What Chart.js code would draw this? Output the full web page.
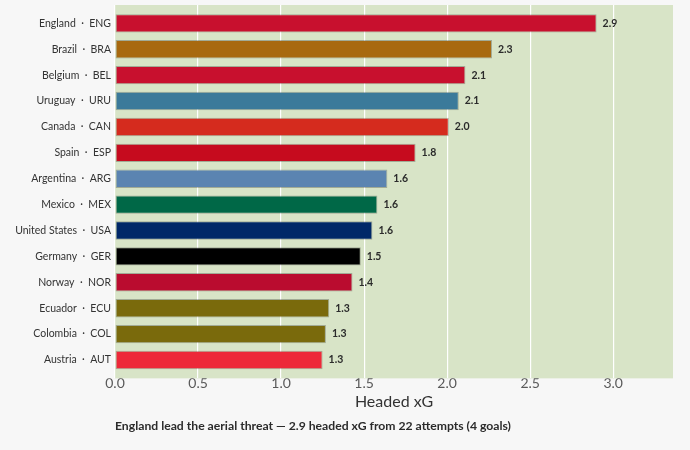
<!DOCTYPE html>
<html>
<head>
<meta charset="utf-8">
<script src="https://cdn.jsdelivr.net/npm/chart.js@4/dist/chart.umd.min.js"></script>
<style>
  html, body { margin: 0; padding: 0; background: #f7f7f7; }
  #wrap { width: 690px; height: 450px; position: relative; }
</style>
</head>
<body>
<div id="wrap"><canvas id="chart_headedXg"></canvas></div>
<script>
var teams = ['England  ·  ENG', 'Brazil  ·  BRA', 'Belgium  ·  BEL', 'Uruguay  ·  URU', 'Canada  ·  CAN', 'Spain  ·  ESP',
  'Argentina  ·  ARG', 'Mexico  ·  MEX', 'United States  ·  USA', 'Germany  ·  GER', 'Norway  ·  NOR',
  'Ecuador  ·  ECU', 'Colombia  ·  COL', 'Austria  ·  AUT'];
var headedXg = [2.90, 2.27, 2.11, 2.07, 2.01, 1.81, 1.64, 1.58, 1.55, 1.48, 1.43, 1.29, 1.27, 1.25];
var teamColors = ['#c8102e', '#a8690f', '#c8102e', '#3b7a9a', '#d52b1e', '#c60b1e', '#5b84b1',
  '#006847', '#002868', '#000000', '#ba0c2f', '#7a6a0c', '#7a6a0c', '#ed2939'];
var xTicks = [0, 0.5, 1, 1.5, 2, 2.5, 3];

Chart.defaults.font.family = 'Lato, "Noto Sans", sans-serif';

var chart_headedXg = new Chart(document.getElementById('chart_headedXg'), {
    type: 'bar',
    data: {
        labels: teams,
        datasets: [{
            label: 'Headed xG',
            data: headedXg,
            backgroundColor: teamColors,
            borderColor: 'rgba(0,0,0,0.25)',
            borderWidth: 1,
            borderSkipped: false,
            categoryPercentage: 1.0,
            barPercentage: 0.71
        }]
    },
    options: {
        indexAxis: 'y',
        animation: false,
        responsive: true,
        maintainAspectRatio: false,
        layout: { padding: { top: 5, right: 17, left: 0, bottom: 0 } },
        plugins: {
            legend: { display: false },
            tooltip: { enabled: false },
            title: {
                display: true,
                position: 'bottom',
                align: 'start',
                fullSize: false,
                text: 'England lead the aerial threat \u2014 2.9 headed xG from 22 attempts (4 goals)',
                color: '#2b2b2b',
                font: { size: 12.2, weight: 'bold' },
                padding: { top: 7, bottom: 17 }
            }
        },
        scales: {
            x: {
                type: 'linear',
                min: 0,
                max: 3.36,
                afterBuildTicks: function(scale) {
                    scale.ticks = xTicks.map(function(v) { return { value: v }; });
                },
                ticks: {
                    color: '#5a5a5a',
                    font: { size: 14 },
                    padding: -3,
                    callback: function(value) { return value.toFixed(1); }
                },
                grid: { color: '#ffffff', lineWidth: 1.2, drawTicks: false },
                border: { display: false },
                title: {
                    display: true,
                    text: 'Headed xG',
                    color: '#333333',
                    font: { size: 16 },
                    padding: { top: 3, bottom: 0 }
                }
            },
            y: {
                afterFit: function(scale) {
                    scale.width = 115;
                    scale.paddingTop = 0;
                    scale.paddingBottom = 0;
                },
                ticks: {
                    color: '#333333',
                    font: { size: 10.5 },
                    padding: 4
                },
                grid: { display: false, drawTicks: false },
                border: { display: false }
            }
        }
    },
    plugins: [{
        id: 'rowMargin',
        // a little empty room above the first and below the last bar
        afterLayout: function(chart) {
            var y = chart.scales.y;
            y._startValue -= 0.21;
            y._valueRange += 0.42;
        }
    }, {
        id: 'plotBackground',
        beforeDraw: function(chart) {
            var ctx = chart.ctx, a = chart.chartArea;
            ctx.save();
            ctx.fillStyle = '#f7f7f7';
            ctx.fillRect(0, 0, chart.width, chart.height);
            ctx.fillStyle = '#d8e4c7';
            ctx.fillRect(a.left, a.top, a.right - a.left, a.bottom - a.top);
            ctx.restore();
        }
    }, {
        id: 'valueLabels',
        afterDatasetsDraw: function(chart) {
            var ctx = chart.ctx;
            var meta = chart.getDatasetMeta(0);
            ctx.save();
            ctx.fillStyle = '#2b2b2b';
            ctx.font = 'bold 10.5px Lato, "Noto Sans", sans-serif';
            ctx.textBaseline = 'middle';
            ctx.textAlign = 'left';
            meta.data.forEach(function(bar, i) {
                ctx.fillText(headedXg[i].toFixed(1), bar.x + 6, bar.y);
            });
            ctx.restore();
        }
    }]
});
</script>
</body>
</html>
